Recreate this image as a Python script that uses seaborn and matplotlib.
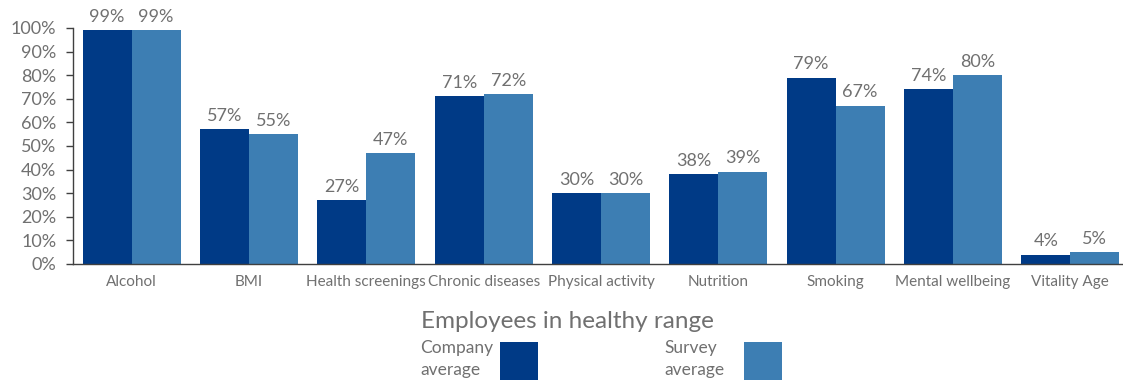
import matplotlib
matplotlib.use("Agg")
import matplotlib.pyplot as plt
import matplotlib.patches as mpatches
import seaborn as sns
import pandas as pd

categories = ["Alcohol", "BMI", "Health screenings", "Chronic diseases",
              "Physical activity", "Nutrition", "Smoking", "Mental wellbeing",
              "Vitality Age"]
company_avg = [99, 57, 27, 71, 30, 38, 79, 74, 4]
survey_avg = [99, 55, 47, 72, 30, 39, 67, 80, 5]
series_names = ["Company average", "Survey average"]
colors = ["#003A86", "#3D7EB3"]
y_ticks = list(range(0, 101, 10))

df = pd.DataFrame({
    "category": categories * 2,
    "value": company_avg + survey_avg,
    "series": [series_names[0]] * len(categories) + [series_names[1]] * len(categories),
})

sns.set_theme(style="white")
plt.rcParams["font.family"] = ["Lato", "DejaVu Sans"]
text_grey = "#707070"

fig = plt.figure(figsize=(11.23, 3.80), dpi=100)
ax = fig.add_axes([73 / 1123, 1 - 264 / 380, (1129 - 73) / 1123, 236 / 380])

sns.barplot(data=df, x="category", y="value", hue="series", order=categories,
            hue_order=series_names, palette=colors, width=0.835, saturation=1,
            edgecolor="none", linewidth=0, legend=False, ax=ax)

for cont in ax.containers:
    ax.bar_label(cont, fmt="%.0f%%", padding=4, fontsize=13, color=text_grey)

ax.set_ylim(0, 100)
ax.set_xlim(-0.5, len(categories) - 0.5)
ax.set_yticks(y_ticks)
ax.set_yticklabels([f"{t}%" for t in y_ticks])
ax.set_xlabel("")
ax.set_ylabel("")

for side in ["top", "right"]:
    ax.spines[side].set_visible(False)
for side in ["left", "bottom"]:
    ax.spines[side].set_color("#404040")
    ax.spines[side].set_linewidth(1.0)

ax.tick_params(axis="y", direction="out", length=5, width=1, color="#404040",
               labelsize=13, labelcolor=text_grey, pad=7, left=True)
ax.tick_params(axis="x", direction="in", length=5, width=1, color="#404040",
               labelsize=11, labelcolor=text_grey, pad=8, bottom=True)

fig.text(567 / 1123, 1 - 321 / 380, "Employees in healthy range", ha="center",
         va="center", fontsize=17.5, color=text_grey)

# Legend: label text followed by a colour swatch
legend_items = [
    (series_names[0], colors[0], 420, 500),
    (series_names[1], colors[1], 664, 744),
]
for name, col, tx, px in legend_items:
    fig.text(tx / 1123, 1 - 359 / 380, name.replace(" ", "\n"), ha="left",
             va="center", multialignment="left", fontsize=12.5,
             color=text_grey, linespacing=1.45)
    fig.patches.append(mpatches.Rectangle(
        (px / 1123, 1 - 380 / 380), 38 / 1123, 38 / 380,
        transform=fig.transFigure, facecolor=col, edgecolor="none"))

fig.savefig("out.png", dpi=100)
